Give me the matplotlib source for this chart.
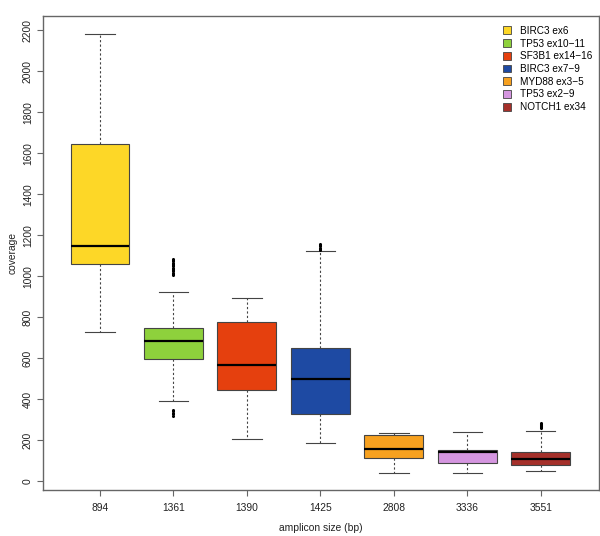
import matplotlib
matplotlib.use("Agg")
import matplotlib.pyplot as plt
from matplotlib.patches import Patch

plt.rcParams["font.family"] = ["Liberation Sans", "DejaVu Sans"]

# amplicon sizes (bp) and names
sizes = ["894", "1361", "1390", "1425", "2808", "3336", "3551"]
names = ["BIRC3 ex6", "TP53 ex10\u221211", "SF3B1 ex14\u221216", "BIRC3 ex7\u22129",
         "MYD88 ex3\u22125", "TP53 ex2\u22129", "NOTCH1 ex34"]
colors = ["#FDD727", "#8ED13C", "#E5400E", "#1E4AA3", "#F7A11F", "#D596E0", "#A5302A"]

# boxplot statistics (coverage)
whislo = [727, 390, 206, 188, 41, 41, 51]
q1 = [1060, 596, 447, 330, 112, 91, 78]
med = [1145, 684, 568, 500, 158, 141, 107]
q3 = [1646, 747, 778, 648, 226, 151, 145]
whishi = [2179, 921, 896, 1124, 237, 239, 248]
outliers = [
    [],
    [320, 328, 335, 342, 349, 1006, 1012, 1018, 1024, 1030, 1036, 1042, 1048,
     1054, 1060, 1066, 1072, 1078, 1084],
    [],
    [1128, 1134, 1140, 1146, 1152, 1158],
    [],
    [],
    [262, 267, 272, 277, 282, 287],
]

stats = []
for i in range(len(sizes)):
    stats.append(dict(whislo=whislo[i], q1=q1[i], med=med[i], q3=q3[i],
                      whishi=whishi[i], fliers=outliers[i], label=sizes[i]))

fig = plt.figure(figsize=(6.0, 5.36), dpi=100)
ax = fig.add_axes([0.071, 0.085, 0.927, 0.885])

frame_c = "#666666"
bp = ax.bxp(stats, positions=range(1, 8), widths=0.8, patch_artist=True,
            showfliers=True,
            boxprops=dict(edgecolor="#444444", linewidth=0.8),
            medianprops=dict(color="black", linewidth=1.6),
            whiskerprops=dict(color="#444444", linewidth=0.8, linestyle=(0, (2, 2))),
            capprops=dict(color="#444444", linewidth=0.8),
            capwidths=0.4,
            flierprops=dict(marker="o", markersize=1.2, markerfacecolor="black",
                            markeredgecolor="black", linestyle="none"))
for patch, c in zip(bp["boxes"], colors):
    patch.set_facecolor(c)

ax.set_xlim(0.22, 7.79)
ax.set_ylim(-44, 2268)
ax.set_yticks(range(0, 2201, 200))
ax.set_yticklabels([str(v) for v in range(0, 2201, 200)], rotation=90, va="center")
ax.set_xticks(range(1, 8))
ax.set_xticklabels(sizes)
ax.tick_params(labelsize=7.4, colors="#222222", length=4, width=0.8,
               color=frame_c)
ax.tick_params(axis="x", pad=5)
ax.tick_params(axis="y", pad=3)
for s in ax.spines.values():
    s.set_color(frame_c)
    s.set_linewidth(1.0)

ax.set_xlabel("amplicon size (bp)", fontsize=7.4, labelpad=7, color="#222222")
ax.set_ylabel("coverage", fontsize=7.4, labelpad=4, color="#222222")

handles = [Patch(facecolor=c, edgecolor="#444444", linewidth=0.6) for c in colors]
ax.legend(handles, names, loc="upper right", bbox_to_anchor=(1.0, 0.992),
          fontsize=7.2, frameon=False,
          handlelength=0.85, handleheight=0.85, handletextpad=0.9,
          labelspacing=0.27, borderaxespad=0.2)

fig.savefig("out.png", dpi=100, facecolor="white")
